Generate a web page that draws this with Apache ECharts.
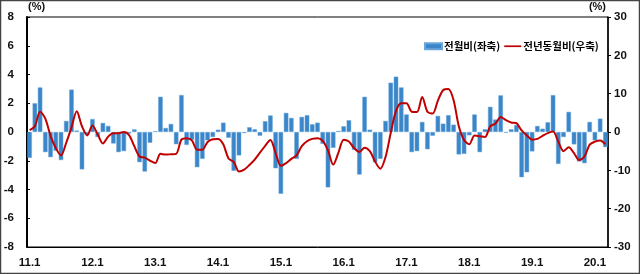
<!DOCTYPE html>
<html><head><meta charset="utf-8">
<script src="https://cdn.jsdelivr.net/npm/echarts@6/dist/echarts.min.js"></script>
<style>html,body{margin:0;padding:0;background:#fff}#c{width:640px;height:274px}</style>
</head><body><div id="c"></div>
<script>
// Categories: monthly, 2011.1 – 2020.3
const years = [11,12,13,14,15,16,17,18,19,20];
const lastMonth = 3;
const tickLabels = ['11.1','12.1','13.1','14.1','15.1','16.1','17.1','18.1','19.1','20.1'];
const categories = [];
years.forEach(y => { for (let m = 1; m <= 12; m++) { if (y === 20 && m > lastMonth) break; categories.push(y + '.' + m); } });

// 전월비 (left axis, %)
const momValues = [
 -1.8, 2.0, 3.1, -1.4, -1.75, -1.3, -1.95, 0.77, 2.95, 0.1, -2.6, -0.2,
 0.9, -0.35, 0.63, 0.42, -0.8, -1.4, -1.33, -0.1, 0.18, -2.1, -2.75, -0.75,
 0.05, 2.45, 0.28, 0.56, -0.85, 2.57, -0.9, -0.54, -2.45, -1.87, -0.58, -0.35,
 0.16, 0.65, -0.4, -2.7, -1.63, -0.07, 0.33, 0.19, -0.26, 0.75, 1.15, -2.52,
 -4.3, 1.33, 0.98, -1.87, 1.05, 1.17, 0.54, 0.65, -0.82, -3.85, -1.1, 0.07,
 0.4, 0.82, -1.24, -2.96, 2.45, 0.16, -2.1, -1.87, 0.77, 3.43, 3.85, 3.1,
 1.22, -1.4, -1.33, 0.7, -1.2, -0.26, 1.12, 0.58, 1.17, 0.51, -1.56, -1.52,
 -0.23, 1.22, -1.4, 0.19, 1.75, 0.87, 2.55, -0.05, 0.19, 0.49, -3.15, -2.8,
 -1.35, 0.42, 0.23, 0.68, 2.57, -2.22, -0.35, 1.4, -0.86, -2.05, -2.17, 0.7,
 -0.58, 0.93, -1.05
];
// 전년동월비 (right axis, %)
const yoyValues = [
 0.5, 1.5, 5.3, 3.5, -1.0, -4.2, -6.1, -2.8, 1.2, 5.4, 1.5, -0.9,
 1.7, -0.6, -3.0, -1.2, -0.3, -0.3, 0.0, -0.8, -3.7, -6.4, -6.7, -7.5,
 -8.1, -5.7, -5.9, -5.8, -5.7, -2.0, -1.6, -2.2, -4.6, -4.6, -2.6, -1.9,
 -1.8, -3.2, -6.9, -7.8, -10.3, -9.8, -8.6, -7.2, -5.4, -3.6, -2.1, -5.5,
 -8.8, -8.1, -7.0, -6.1, -3.7, -2.4, -1.8, -1.6, -2.3, -4.8, -8.5, -5.4,
 -2.0, -2.5, -4.2, -5.2, -4.1, -5.0, -7.7, -9.6, -6.5, -0.2, 5.5, 7.5,
 7.5, 5.3, 5.2, 9.1, 5.3, 4.8, 8.2, 10.9, 11.2, 8.3, 1.5, -2.1,
 -3.2, -0.9, -1.1, -1.3, 1.5, 2.2, 3.9, 3.1, 2.5, 2.3, 0.4, -0.9,
 -2.0, -1.8, -1.0, -0.3, 0.1, -2.5, -5.0, -4.0, -5.5, -7.3, -6.4, -3.3,
 -2.5, -2.2, -3.2
];
const leftTicks = {min: -8, max: 8, interval: 2};
const rightTicks = {min: -30, max: 30, interval: 10};
const seriesNames = ['전월비(좌축)', '전년동월비(우축)'];
const unitLabel = '(%)';

const FONT = '"Liberation Sans Narrow","Liberation Sans",Arial,sans-serif';
const KFONT = '"Noto Sans CJK KR","Noto Sans",sans-serif';
const chart = echarts.init(document.getElementById('c'), null, {renderer: 'canvas'});
chart.setOption({
  animation: false,
  backgroundColor: '#fff',
  grid: {left: 27, right: 32, top: 17, bottom: 27, show: true, borderColor: '#000', borderWidth: 1},
  legend: {
    left: 419, top: 36, itemWidth: 17, itemHeight: 6, itemGap: 4,
    textStyle: {fontFamily: KFONT, fontWeight: 'bold', fontSize: 10.5, color: '#000', padding: [0, 0, 0, -3]},
    data: [
      {name: seriesNames[0], icon: 'rect'},
      {name: seriesNames[1], icon: 'path://M0,0h20v2h-20z'}
    ]
  },
  xAxis: {
    type: 'category', data: categories, boundaryGap: true,
    axisLine: {onZero: false, lineStyle: {color: '#000', width: 1}},
    axisTick: {show: false},
    axisLabel: {
      interval: (i, v) => tickLabels.indexOf(v) >= 0,
      fontFamily: FONT, fontWeight: 'bold', fontSize: 11.5, color: '#111', margin: 10
    },
    splitLine: {show: false}
  },
  yAxis: [
    {
      type: 'value', min: leftTicks.min, max: leftTicks.max, interval: leftTicks.interval,
      axisLine: {show: true, lineStyle: {color: '#000', width: 2}},
      axisTick: {show: true, inside: true, length: 3, lineStyle: {color: '#000'}},
      axisLabel: {fontFamily: FONT, fontWeight: 'bold', fontSize: 11.5, color: '#111', margin: 13},
      splitLine: {show: false}
    },
    {
      type: 'value', min: rightTicks.min, max: rightTicks.max, interval: rightTicks.interval,
      axisLine: {show: true, lineStyle: {color: '#000', width: 1.5}},
      axisTick: {show: true, inside: false, length: 3, lineStyle: {color: '#000'}},
      axisLabel: {fontFamily: FONT, fontWeight: 'bold', fontSize: 11.5, color: '#111', margin: 6},
      splitLine: {show: false}
    }
  ],
  series: [
    {
      name: seriesNames[0], type: 'bar', yAxisIndex: 0, data: momValues,
      barWidth: '86%',
      itemStyle: {color: '#3a86c8', borderColor: '#6aa6da', borderWidth: 0.5}
    },
    {
      name: seriesNames[1], type: 'line', yAxisIndex: 1, data: yoyValues,
      smooth: 0.3, symbol: 'none',
      lineStyle: {color: '#c00000', width: 2},
      itemStyle: {color: '#c00000'}
    }
  ],
  graphic: [
    {
      type: 'text', left: 28, top: 1, silent: true,
      style: {text: unitLabel, font: 'bold 11px ' + FONT, fill: '#111'}
    },
    {
      type: 'text', right: 34, top: 1, silent: true,
      style: {text: unitLabel, font: 'bold 11px ' + FONT, fill: '#111'}
    },
    {
      type: 'rect', silent: true, z: 100,
      shape: {x: 0.5, y: 0.5, width: 639, height: 273},
      style: {fill: 'none', stroke: '#444', lineWidth: 1.5}
    }
  ]
});
</script></body></html>
